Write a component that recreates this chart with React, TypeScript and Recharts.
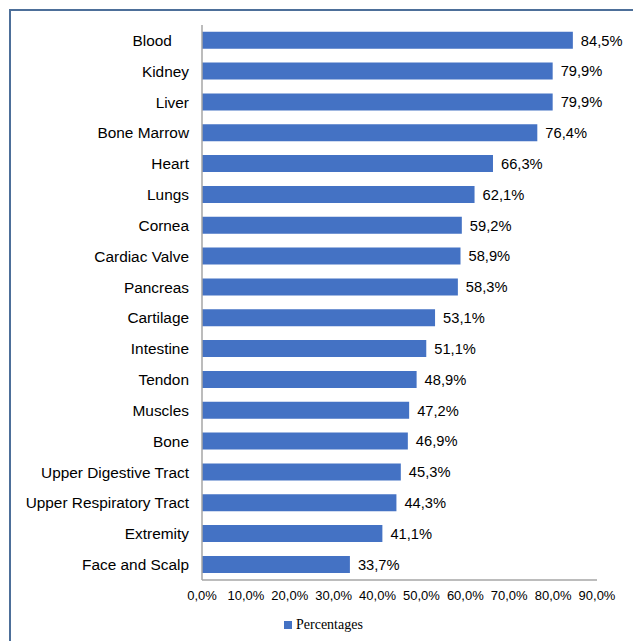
import { BarChart, Bar, XAxis, YAxis, LabelList } from "recharts";

// organ / tissue categories, top to bottom (trailing spaces as in the source sheet)
const organs = [
  "Blood    ",
  "Kidney",
  "Liver",
  "Bone Marrow",
  "Heart",
  "Lungs",
  "Cornea",
  "Cardiac Valve",
  "Pancreas",
  "Cartilage",
  "Intestine",
  "Tendon",
  "Muscles",
  "Bone",
  "Upper Digestive Tract",
  "Upper Respiratory Tract",
  "Extremity",
  "Face and Scalp",
];

const percentages = [
  84.5, 79.9, 79.9, 76.4, 66.3, 62.1, 59.2, 58.9, 58.3, 53.1, 51.1, 48.9, 47.2,
  46.9, 45.3, 44.3, 41.1, 33.7,
];

const xTicks = [0, 10, 20, 30, 40, 50, 60, 70, 80, 90];

const data = organs.map((name, i) => ({ name, value: percentages[i] }));

const fmt = (v: number) => v.toFixed(1).replace(".", ",") + "%";

const FONT = '"Liberation Sans", Arial, sans-serif';
const BLUE = "#4472c4";
const AXIS = "#a6a6a6";

const CategoryTick = (props: any) => {
  const { x, y, payload } = props;
  return (
    <text
      x={x}
      y={y}
      dy="0.355em"
      textAnchor="end"
      fill="#000"
      fontSize={15.4}
      fontFamily={FONT}
      style={{ whiteSpace: "pre" }}
    >
      {payload.value}
    </text>
  );
};

export default function App() {
  return (
    <div style={{ position: "absolute", left: 0, top: 0, width: 633, height: 641, overflow: "hidden" }}>
      <div
        style={{
          position: "absolute",
          left: 9,
          top: 9,
          width: 660,
          height: 660,
          border: "2px solid #4d6f99",
        }}
      />
      <div style={{ position: "absolute", left: 0, top: 0 }}>
        <BarChart
          width={633}
          height={641}
          data={data}
          layout="vertical"
          margin={{ top: 25, right: 36, bottom: 31, left: 0 }}
          barCategoryGap="22%"
        >
          <XAxis
            type="number"
            domain={[0, 90]}
            ticks={xTicks}
            tickFormatter={fmt}
            axisLine={{ stroke: AXIS, strokeWidth: 1.5 }}
            tickLine={false}
            tickSize={0}
            tickMargin={11}
            height={30}
            tick={{ fill: "#000", fontSize: 13, fontFamily: FONT }}
            interval={0}
          />
          <YAxis
            type="category"
            dataKey="name"
            width={202}
            axisLine={{ stroke: AXIS, strokeWidth: 1.5 }}
            tickLine={false}
            tickSize={0}
            tickMargin={13}
            interval={0}
            tick={<CategoryTick />}
          />
          <Bar dataKey="value" fill={BLUE} isAnimationActive={false}>
            <LabelList
              dataKey="value"
              position="right"
              offset={8}
              formatter={(v: any) => fmt(Number(v))}
              style={{ fill: "#000", fontSize: 14.7, fontFamily: FONT }}
            />
          </Bar>
        </BarChart>
      </div>
      <div
        style={{
          position: "absolute",
          left: 284,
          top: 616,
          display: "flex",
          alignItems: "center",
          fontFamily: '"Liberation Serif", "Times New Roman", serif',
          fontSize: 14,
          color: "#000",
          lineHeight: "18px",
        }}
      >
        <span style={{ display: "inline-block", width: 8, height: 8, background: BLUE, marginRight: 4 }} />
        Percentages
      </div>
    </div>
  );
}
